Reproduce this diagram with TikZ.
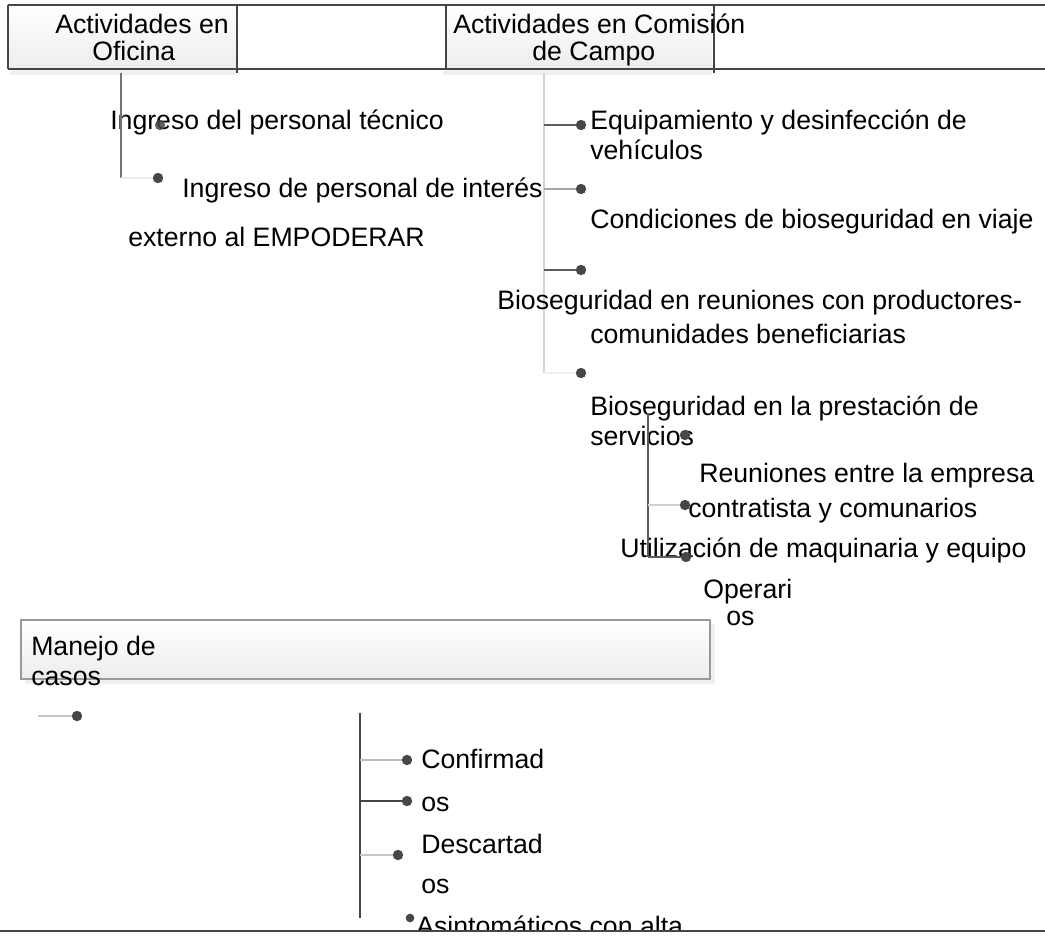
\documentclass[tikz,border=0pt]{standalone}
\usepackage{fontspec}
\setmainfont{Liberation Sans}
\usepackage{tikz}

\definecolor{framegray}{HTML}{454545}
\definecolor{dotgray}{HTML}{474747}
\definecolor{stemdark}{HTML}{5C5C5C}
\definecolor{stemlight}{HTML}{D4D4D4}
\definecolor{twiglight}{HTML}{D0D0D0}
\definecolor{boxshade}{HTML}{EDEDED}

\tikzset{
  frameline/.style={draw=framegray,line width=2.2pt},
  leafdot/.style={circle,fill=dotgray,inner sep=0pt,minimum size=7.8pt},
  itemtext/.style={anchor=base west,inner sep=0pt,font=\fontsize{20}{24}\selectfont},
  stem/.style={line width=1.6pt},
}

\begin{document}
\begin{tikzpicture}[x=0.75pt,y=-0.75pt]
\useasboundingbox (0,0) rectangle (1045,939);

% header
\shade[top color=white,bottom color=boxshade] (8,5) rectangle (237,69);
\shade[top color=white,bottom color=boxshade] (446,5) rectangle (712,69);
\fill[gray!12] (10,69) rectangle (237,75);
\fill[gray!12] (443,69) rectangle (712,75);
\draw[frameline] (8,5) -- (1045,5);
\draw[frameline] (8,69) -- (1045,69);
\draw[frameline] (8,5) -- (8,69);
\draw[frameline] (237,5) -- (237,73);
\draw[frameline] (446,5) -- (446,69);
\draw[frameline] (714,5) -- (714,73);
\node[itemtext] (of1) at (55,33) {Actividades en};
\node[itemtext] (of2) at (92,60) {Oficina};
\node[itemtext] (ca1) at (453,33) {Actividades en Comisión};
\node[itemtext] (ca2) at (532,60) {de Campo};

% oficina
\coordinate (lt) at (121,73);
\coordinate (lb) at (121,178);
\node[itemtext] (in1) at (110,129) {Ingreso del personal técnico};
\node[itemtext] (in2) at (182,197) {Ingreso de personal de interés};
\node[itemtext] (in3) at (128,246) {externo al EMPODERAR};
\draw[stem,draw=stemdark!85] (lt) -- (lb);
\draw[stem,draw=gray!15] (lb) -- (158,178) coordinate (lx);
\node[leafdot,opacity=0.85] (ld1) at (160,125) {};
\node[leafdot] (ld2) at (lx) {};

% campo
\coordinate (rt) at (544,73);
\coordinate (rb) at (544,373);
\coordinate (rb1) at (544,125);
\coordinate (rb2) at (544,189);
\coordinate (rb3) at (544,270);
\node[leafdot] (rd1) at (581,125) {};
\node[leafdot] (rd2) at (581,189) {};
\node[leafdot] (rd3) at (581,270) {};
\node[leafdot] (rd4) at (581,373) {};
\draw[stem,draw=stemlight] (rt) -- (rb);
\draw[stem,draw=stemdark] (rb1) -- (rd1);
\draw[stem,draw=gray!70] (rb2) -- (rd2);
\draw[stem,draw=stemdark] (rb3) -- (rd3);
\draw[stem,draw=gray!12] (rb) -- (rd4);
\node[itemtext] (eq1) at (590,129) {Equipamiento y desinfección de};
\node[itemtext] (eq2) at (590,159) {vehículos};
\node[itemtext] (cv) at (590,228) {Condiciones de bioseguridad en viaje};
\node[itemtext] (br1) at (497,309) {Bioseguridad en reuniones con productores-};
\node[itemtext] (br2) at (590,343) {comunidades beneficiarias};
\node[itemtext] (bp1) at (590,415) {Bioseguridad en la prestación de};
\node[itemtext] (bp2) at (590,445) {servicios};

% servicios
\coordinate (st) at (648,413);
\coordinate (sm) at (648,505);
\coordinate (sb) at (648,557);
\node[itemtext] (re1) at (699,482) {Reuniones entre la empresa};
\node[itemtext] (re2) at (688,517) {contratista y comunarios};
\node[itemtext] (um) at (620,557) {Utilización de maquinaria y equipo};
\node[itemtext] (op1) at (703,598) {Operari};
\node[itemtext] (op2) at (726,625) {os};
\draw[stem,draw=stemdark] (st) -- (sb);
\node[leafdot] (sd1) at (685,435) {};
\node[leafdot] (sd2) at (685,505) {};
\node[leafdot] (sd3) at (686,557) {};
\draw[stem,draw=twiglight] (sm) -- (sd2);
\draw[stem,draw=stemdark] (sb) -- (sd3);

% manejo de casos
\fill[gray!12] (710,624) rectangle (715,684);
\fill[gray!12] (25,679) rectangle (715,684);
\shade[top color=white,bottom color=boxshade] (21,620) rectangle (710,679);
\draw[draw=gray!80,line width=1.2pt] (21,679) -- (21,620) -- (710,620) -- (710,679) -- (20,679);
\node[itemtext] (mc1) at (31,655) {Manejo de};
\node[itemtext] (mc2) at (31,685) {casos};
\coordinate (mc) at (38,716);
\node[leafdot] (md) at (77,716) {};
\draw[stem,draw=gray!45] (mc) -- (md);

\coordinate (bt) at (360,713);
\coordinate (bb) at (360,918);
\coordinate (b1) at (360,760);
\coordinate (b2) at (360,801);
\coordinate (b3) at (360,855);
\node[leafdot] (bd1) at (407,760) {};
\node[leafdot] (bd2) at (407,801) {};
\node[leafdot] (bd3) at (398,855) {};
\node[leafdot,minimum size=6.5pt] (bd4) at (410,918) {};
\draw[stem,draw=framegray] (bt) -- (bb);
\draw[stem,draw=gray!55] (b1) -- (bd1);
\draw[stem,draw=framegray] (b2) -- (bd2);
\draw[stem,draw=gray!45] (b3) -- (bd3);
\node[itemtext] (cf1) at (421,768) {Confirmad};
\node[itemtext] (cf2) at (421,811) {os};
\node[itemtext] (ds1) at (421,853) {Descartad};
\node[itemtext] (ds2) at (421,893) {os};
\node[itemtext] (as) at (416,935) {Asintomáticos con alta};
\fill[white] (0,932) rectangle (1045,939);
\draw[draw=framegray,line width=1.8pt] (0,931) -- (1045,931);
\end{tikzpicture}
\end{document}
